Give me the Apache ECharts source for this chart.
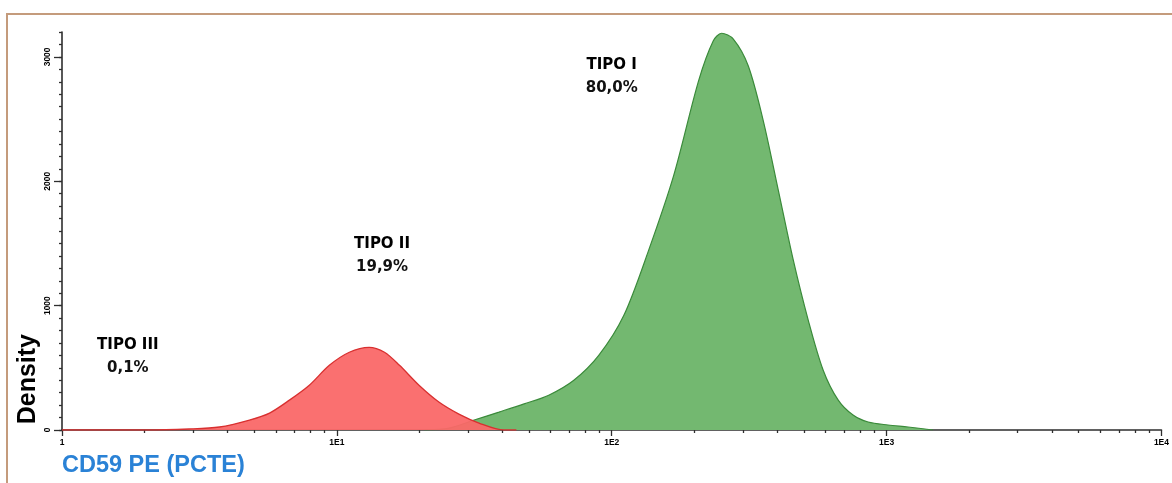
<!DOCTYPE html>
<html>
<head>
<meta charset="utf-8">
<script src="https://cdn.jsdelivr.net/npm/echarts@6/dist/echarts.min.js"></script>
<style>
  html, body { margin: 0; padding: 0; background: #ffffff; }
  #chart { width: 1172px; height: 483px; }
</style>
</head>
<body>
<div id="chart"></div>
<script>
// CD59 PE fluorescence intensity (log scale) and cell density per population
const typeIIIntensity = [1, 2, 2.9, 3.74, 4.81, 5.69, 6.72, 7.94, 9.39, 11.1, 13.1, 14.9, 16.9, 19.9, 23.5, 27.8, 32.9, 40.5, 45];
const typeIIDensity   = [0, 0, 8, 24, 80, 136, 240, 360, 520, 625, 665, 625, 520, 360, 225, 128, 56, 0, 0];

const typeIIntensity = [20.8, 25.6, 31.6, 38.9, 48, 59, 72.8, 89.7, 110.6, 136, 168, 207, 234, 251, 277, 314, 356, 404, 458, 519, 588, 667, 755, 857, 1012, 1197, 1475];
const typeIDensity   = [0, 15, 80, 144, 210, 280, 400, 600, 920, 1440, 2045, 2807, 3128, 3190, 3143, 2927, 2486, 1925, 1363, 882, 481, 240, 120, 64, 40, 24, 0];

// Population names and their share of cells
const typeNames    = ['TIPO I', 'TIPO II', 'TIPO III'];
const typePercents = ['80,0%', '19,9%', '0,1%'];

// Axis tick labels
const yTickValues = [0, 1000, 2000, 3000];
const yTickLabels = ['0', '1000', '2000', '3000'];
const xMajorTicks = [1, 10, 100, 1000, 10000];
const xTickLabels = ['1', '1E1', '1E2', '1E3', '1E4'];

const pairs = (xs, ys) => xs.map((x, i) => [x, ys[i]]);

const xMinorTicks = [];
for (let d = 1; d < 10000; d *= 10) {
  for (let k = 2; k <= 9; k++) xMinorTicks.push(k * d);
}

// where each population caption sits, in data units
const captionAnchors = [[100, 2838], [14.6, 1399], [1.736, 587]];

const chart = echarts.init(document.getElementById('chart'), null, { renderer: 'canvas' });

const axisColor = '#2e2e2e';

chart.setOption({
  animation: false,
  backgroundColor: '#ffffff',
  grid: { left: 62, right: 8, top: 32, bottom: 53, containLabel: false },
  xAxis: [
    {
      type: 'log', logBase: 10, min: 1, max: 10000,
      axisLine: { show: true, lineStyle: { color: axisColor, width: 1.6 } },
      axisTick: { show: true, length: 6, lineStyle: { color: axisColor, width: 1.3 } },
      axisLabel: {
        show: true, margin: 8, color: '#000', fontSize: 8.5, fontWeight: 'bold',
        fontFamily: 'Liberation Sans',
        formatter: v => { const i = xMajorTicks.indexOf(Math.round(v)); return i >= 0 ? xTickLabels[i] : ''; }
      },
      splitLine: { show: false },
      minorTick: { show: false }
    },
    {
      type: 'log', logBase: 10, min: 1, max: 10000, gridIndex: 0, position: 'bottom',
      axisLine: { show: false },
      axisTick: { show: true, length: 3, customValues: xMinorTicks, lineStyle: { color: axisColor, width: 1.3 } },
      axisLabel: { show: false },
      splitLine: { show: false }
    }
  ],
  yAxis: [
    {
      type: 'value', min: 0, max: 3200, interval: 1000,
      axisLine: { show: true, lineStyle: { color: axisColor, width: 1.6 } },
      axisTick: { show: true, length: 8, customValues: yTickValues, lineStyle: { color: axisColor, width: 1.3 } },
      axisLabel: {
        show: true, rotate: 90, margin: 10, color: '#000', fontSize: 8.5, fontWeight: 'bold',
        fontFamily: 'Liberation Sans', customValues: yTickValues,
        formatter: v => { const i = yTickValues.indexOf(Math.round(v)); return i >= 0 ? yTickLabels[i] : ''; }
      },
      splitLine: { show: false }
    },
    {
      type: 'value', min: 0, max: 3200, interval: 100, position: 'left',
      axisLine: { show: false },
      axisTick: { show: true, length: 3, lineStyle: { color: axisColor, width: 1.3 } },
      axisLabel: { show: false },
      splitLine: { show: false }
    }
  ],
  series: [
    {
      name: 'TIPO I', type: 'line', xAxisIndex: 0, yAxisIndex: 0,
      data: pairs(typeIIntensity, typeIDensity),
      smooth: 0.3, showSymbol: false, z: 2,
      lineStyle: { color: '#3a8a3a', width: 1.2 },
      areaStyle: { color: '#73b870', opacity: 1 }
    },
    {
      name: 'TIPO II', type: 'line', xAxisIndex: 0, yAxisIndex: 0,
      data: pairs(typeIIIntensity, typeIIDensity),
      smooth: 0.3, showSymbol: false, z: 3,
      lineStyle: { color: '#d83030', width: 1.3 },
      areaStyle: { color: '#fa6868', opacity: 0.95 }
    },
    {
      name: 'captions', type: 'scatter', xAxisIndex: 0, yAxisIndex: 0,
      symbolSize: 0, z: 5, silent: true,
      itemStyle: { color: '#000', opacity: 1 },
      data: captionAnchors.map(c => c),
      label: {
        show: true, position: 'inside', align: 'center', verticalAlign: 'middle', color: '#000',
        textBorderWidth: 0, opacity: 1,
        formatter: p => '{n|' + typeNames[p.dataIndex] + '}\n{p|' + typePercents[p.dataIndex] + '}',
        rich: {
          n: { fontFamily: 'DejaVu Sans', fontWeight: 'bold', fontSize: 15, color: '#000', lineHeight: 23, align: 'center' },
          p: { fontFamily: 'DejaVu Sans', fontWeight: 'bold', fontSize: 15, color: '#111', lineHeight: 23, align: 'center' }
        }
      }
    }
  ],
  graphic: [
    {
      type: 'rect', silent: true, z: 100,
      shape: { x: 7, y: 14, width: 1200, height: 520 },
      style: { fill: 'none', stroke: '#c49b7c', lineWidth: 2 }
    },
    {
      type: 'text', z: 100, left: 16, top: 334, rotation: Math.PI / 2,
      style: { text: 'Density', fill: '#000', font: 'bold 25px "Liberation Sans"' }
    },
    {
      type: 'text', z: 100, left: 62, top: 454,
      style: { text: 'CD59 PE (PCTE)', fill: '#2a82d6', font: 'bold 23.5px "Liberation Sans"' }
    }
  ]
});
</script>
</body>
</html>
